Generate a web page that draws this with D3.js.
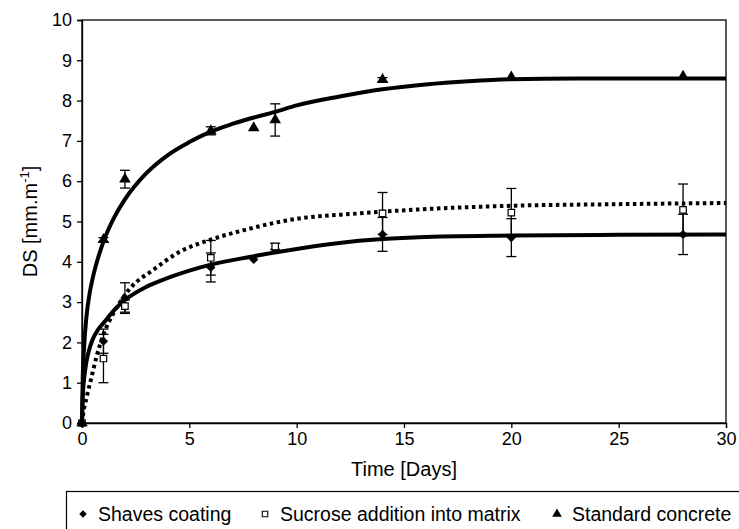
<!DOCTYPE html>
<html><head><meta charset="utf-8">
<script src="https://cdn.jsdelivr.net/npm/d3@7"></script>
<style>body{margin:0;background:#fff}svg{display:block;font-family:"Liberation Sans",Arial,sans-serif}</style>
</head><body><svg id="c" width="739" height="529"></svg>
<script>
// Measured data (day, DS, error)
const days = [0, 1, 2, 6, 8, 9, 14, 20, 28];
const shavesVals = [0, 2.03, 3.1, 3.86, 4.06, 4.32, 4.68, 4.6, 4.68];
const shavesErr  = [0, 0.3, 0.38, 0.36, 0, 0, 0.42, 0.47, 0.5];
const sucroseDays = [0, 1, 2, 6, 9, 14, 20, 28];
const sucroseVals = [0, 1.6, 2.9, 4.1, 4.38, 5.2, 5.22, 5.29];
const sucroseErr  = [0, 0.6, 0.15, 0.43, 0.08, 0.52, 0.6, 0.64];
const standardVals = [0, 4.55, 6.05, 7.25, 7.32, 7.52, 8.52, 8.58, 8.6];
const standardErr  = [0, 0.05, 0.22, 0.1, 0, 0.4, 0.05, 0, 0];
// Fitted curves
const fitStdT = [0, 0.03, 0.1, 0.2, 0.35, 0.5, 0.75, 1, 1.5, 2, 3, 4, 5, 6, 7, 8, 9, 10, 12, 14, 16, 18, 20, 23, 26, 30];
const fitStdY = [0, 1.0, 1.9, 2.6, 3.2, 3.6, 4.1, 4.5, 5.1, 5.55, 6.2, 6.65, 6.97, 7.23, 7.42, 7.58, 7.72, 7.88, 8.1, 8.28, 8.4, 8.48, 8.53, 8.55, 8.55, 8.55];
const fitShvT = [0, 0.03, 0.1, 0.2, 0.35, 0.5, 0.75, 1, 1.5, 2, 3, 4, 5, 6, 7.8, 10, 12.9, 15.7, 20, 25, 30];
const fitShvY = [0, 0.6, 1.1, 1.5, 1.85, 2.08, 2.32, 2.48, 2.8, 3.05, 3.38, 3.6, 3.78, 3.93, 4.12, 4.32, 4.52, 4.61, 4.65, 4.67, 4.68];
const fitSucT = [0, 0.06, 0.22, 0.45, 0.68, 1, 1.46, 2.24, 3.32, 4.56, 6, 7.5, 9.8, 12.9, 15.7, 20, 25, 30];
const fitSucY = [0, 0.25, 0.65, 1.15, 1.65, 2.2, 2.72, 3.34, 3.8, 4.25, 4.55, 4.78, 5.05, 5.2, 5.3, 5.39, 5.43, 5.46];
const xTicks = [0, 5, 10, 15, 20, 25, 30];
const yTicks = [0, 1, 2, 3, 4, 5, 6, 7, 8, 9, 10];
const legendLabels = ["Shaves coating", "Sucrose addition into matrix", "Standard concrete"];

const svg = d3.select("#c");
const L = 82, R = 726, T = 20, B = 423;
const x = d3.scaleLinear().domain([0, 30]).range([L, R]);
const y = d3.scaleLinear().domain([0, 10]).range([B, T]);

// frame
svg.append("rect").attr("x", L).attr("y", T).attr("width", R - L).attr("height", B - T)
  .attr("fill", "none").attr("stroke", "#000").attr("stroke-width", 1.3);

const yAxis = svg.append("g").attr("transform", `translate(${L},0)`)
  .call(d3.axisLeft(y).tickValues(yTicks).tickSize(5).tickPadding(5).tickFormat(d3.format("d")));
const xAxis = svg.append("g").attr("transform", `translate(0,${B})`)
  .call(d3.axisBottom(x).tickValues(xTicks).tickSize(5).tickPadding(4).tickFormat(d3.format("d")));
[yAxis, xAxis].forEach(g => {
  g.select(".domain").attr("stroke-width", 1.3);
  g.selectAll(".tick line").attr("stroke-width", 1.3);
  g.selectAll("text").attr("font-size", 18).attr("font-family", "Liberation Sans, Arial, sans-serif").attr("fill", "#000");
});

// axis titles
svg.append("text").attr("x", (L + R) / 2).attr("y", 476).attr("text-anchor", "middle")
  .attr("font-size", 20).text("Time [Days]");
const yl = svg.append("text").attr("transform", `translate(37,${(T + B) / 2}) rotate(-90)`)
  .attr("text-anchor", "middle").attr("font-size", 20);
yl.append("tspan").text("DS [mm.m");
yl.append("tspan").attr("dy", -8).attr("font-size", 13).text("-1");
yl.append("tspan").attr("dy", 8).text("]");

// fitted curves
const line = d3.line().x(d => x(d[0])).y(d => y(d[1])).curve(d3.curveMonotoneX);
const plot = svg.append("g");
plot.append("path").datum(d3.zip(fitStdT, fitStdY)).attr("d", line)
  .attr("fill", "none").attr("stroke", "#000").attr("stroke-width", 4);
plot.append("path").datum(d3.zip(fitShvT, fitShvY)).attr("d", line)
  .attr("fill", "none").attr("stroke", "#000").attr("stroke-width", 4);
plot.append("path").datum(d3.zip(fitSucT, fitSucY)).attr("d", line)
  .attr("fill", "none").attr("stroke", "#000").attr("stroke-width", 4)
  .attr("stroke-dasharray", "3.5,3.5");

// error bars
function errBars(xs, vs, es) {
  xs.forEach((d, i) => {
    if (!es[i]) return;
    const g = plot.append("g").attr("stroke", "#000").attr("stroke-width", 1.3);
    const cx = x(d), y1 = y(vs[i] - es[i]), y2 = y(vs[i] + es[i]);
    g.append("line").attr("x1", cx).attr("x2", cx).attr("y1", y1).attr("y2", y2);
    g.append("line").attr("x1", cx - 5).attr("x2", cx + 5).attr("y1", y1).attr("y2", y1);
    g.append("line").attr("x1", cx - 5).attr("x2", cx + 5).attr("y1", y2).attr("y2", y2);
  });
}
errBars(days, shavesVals, shavesErr);
errBars(sucroseDays, sucroseVals, sucroseErr);
errBars(days, standardVals, standardErr);

// markers
const diamond = d3.symbol().type(d3.symbolDiamond2).size(55);
const square = d3.symbol().type(d3.symbolSquare).size(42);
const tri = d3.symbol().type(d3.symbolTriangle).size(58);
days.forEach((d, i) => plot.append("path").attr("d", diamond())
  .attr("transform", `translate(${x(d)},${y(shavesVals[i])})`).attr("fill", "#000"));
sucroseDays.forEach((d, i) => plot.append("path").attr("d", square())
  .attr("transform", `translate(${x(d)},${y(sucroseVals[i])})`).attr("fill", "#fff").attr("stroke", "#000").attr("stroke-width", 1.2));
days.forEach((d, i) => plot.append("path").attr("d", tri())
  .attr("transform", `translate(${x(d)},${y(standardVals[i])})`).attr("fill", "#000"));

// legend
svg.append("rect").attr("x", 66.5).attr("y", 491.5).attr("width", 700).attr("height", 60)
  .attr("fill", "none").attr("stroke", "#000").attr("stroke-width", 1.2);
const legY = 514;
const legX = [83, 265, 557];
const legSym = [d3.symbol().type(d3.symbolDiamond2).size(36), d3.symbol().type(d3.symbolSquare).size(30), d3.symbol().type(d3.symbolTriangle).size(40)];
legendLabels.forEach((lab, i) => {
  const p = svg.append("path").attr("d", legSym[i]()).attr("transform", `translate(${legX[i]},${legY})`);
  if (i === 1) p.attr("fill", "#fff").attr("stroke", "#000").attr("stroke-width", 1.1);
  else p.attr("fill", "#000");
  svg.append("text").attr("x", legX[i] + 15).attr("y", legY + 7).attr("font-size", 19.5).text(lab);
});
</script></body></html>
